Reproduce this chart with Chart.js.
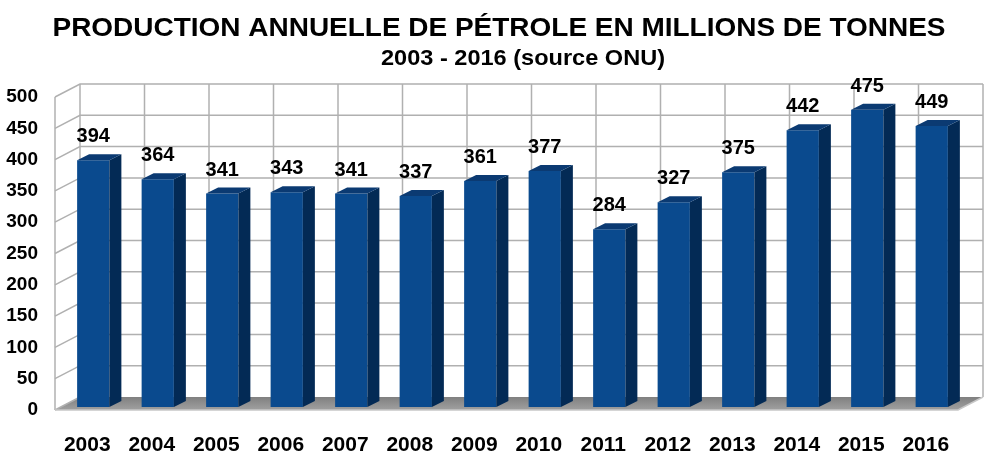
<!DOCTYPE html>
<html>
<head>
<meta charset="utf-8">
<script src="https://cdn.jsdelivr.net/npm/chart.js@4/dist/chart.umd.min.js"></script>
<style>
  html, body { margin: 0; padding: 0; background: #fff; }
  #wrap { width: 998px; height: 455px; }
</style>
</head>
<body>
<div id="wrap"><canvas id="chart"></canvas></div>
<script>
// @ts-check

const years = ['2003', '2004', '2005', '2006', '2007', '2008', '2009',
  '2010', '2011', '2012', '2013', '2014', '2015', '2016'];
const production = [394, 364, 341, 343, 341, 337, 361, 377, 284, 327, 375, 442, 475, 449];
const yMax = 500;
const yStep = 50;

const titleText = 'PRODUCTION ANNUELLE DE PÉTROLE EN MILLIONS DE TONNES';
const subtitleText = '2003 - 2016 (source ONU)';

const FONT = '"Liberation Sans", Arial, sans-serif';

// depth of the box and of the bars (pixels)
const WALL = { dx: 25, dy: -13 };
const BAR_SHIFT = { dx: 6, dy: -3 };
const BAR_DEPTH = { dx: 12, dy: -6 };

// text drawn a bit wider, like the original
function wideText(ctx, text, cx, cy, width) {
  const sx = width / ctx.measureText(text).width;
  ctx.save();
  ctx.translate(cx, cy);
  ctx.scale(sx, 1);
  ctx.fillText(text, 0, 0);
  ctx.restore();
}

const box3d = {
  id: 'box3d',
  beforeDatasetsDraw(chart) {
    const { ctx, chartArea: a, scales: { y } } = chart;
    ctx.save();

    // floor
    const grd = ctx.createLinearGradient(0, a.bottom + WALL.dy, 0, a.bottom);
    grd.addColorStop(0, '#808080');
    grd.addColorStop(1, '#a0a0a0');
    ctx.fillStyle = grd;
    ctx.beginPath();
    ctx.moveTo(a.left, a.bottom);
    ctx.lineTo(a.right, a.bottom);
    ctx.lineTo(a.right + WALL.dx, a.bottom + WALL.dy);
    ctx.lineTo(a.left + WALL.dx, a.bottom + WALL.dy);
    ctx.closePath();
    ctx.fill();

    ctx.strokeStyle = '#b0b0b0';
    ctx.lineWidth = 1.5;

    // horizontal grid on back wall + connectors on left wall
    for (let v = 0; v <= yMax; v += yStep) {
      const py = y.getPixelForValue(v);
      ctx.beginPath();
      ctx.moveTo(a.left, py);
      ctx.lineTo(a.left + WALL.dx, py + WALL.dy);
      if (v > 0) ctx.lineTo(a.right + WALL.dx, py + WALL.dy);
      ctx.stroke();
    }

    // vertical lines on back wall at category boundaries
    const n = years.length;
    const w = (a.right - a.left) / n;
    for (let i = 0; i <= n; i++) {
      const px = a.left + WALL.dx + i * w;
      ctx.beginPath();
      ctx.moveTo(px, a.top + WALL.dy);
      ctx.lineTo(px, a.bottom + WALL.dy);
      ctx.stroke();
    }

    // left front edge
    ctx.beginPath();
    ctx.moveTo(a.left, a.top);
    ctx.lineTo(a.left, a.bottom);
    ctx.stroke();

    // floor front edge
    ctx.strokeStyle = '#c8c8c8';
    ctx.beginPath();
    ctx.moveTo(a.left, a.bottom);
    ctx.lineTo(a.right, a.bottom);
    ctx.lineTo(a.right + WALL.dx, a.bottom + WALL.dy);
    ctx.stroke();
    ctx.restore();

    // bars sit a little inside the box
    ctx.save();
    ctx.translate(BAR_SHIFT.dx, BAR_SHIFT.dy);
  },
  afterDatasetsDraw(chart) {
    const { ctx } = chart;
    chart.getDatasetMeta(0).data.forEach((bar, i) => {
      // @ts-ignore
      const { x, y, base, width } = bar.getProps(['x', 'y', 'base', 'width'], true);
      const l = x - width / 2, r = x + width / 2;
      // side
      ctx.fillStyle = '#032a55';
      ctx.beginPath();
      ctx.moveTo(r, y);
      ctx.lineTo(r + BAR_DEPTH.dx, y + BAR_DEPTH.dy);
      ctx.lineTo(r + BAR_DEPTH.dx, base + BAR_DEPTH.dy);
      ctx.lineTo(r, base);
      ctx.closePath();
      ctx.fill();
      // top
      ctx.fillStyle = '#0b3a72';
      ctx.beginPath();
      ctx.moveTo(l, y);
      ctx.lineTo(l + BAR_DEPTH.dx, y + BAR_DEPTH.dy);
      ctx.lineTo(r + BAR_DEPTH.dx, y + BAR_DEPTH.dy);
      ctx.lineTo(r, y);
      ctx.closePath();
      ctx.fill();
      // value label
      ctx.fillStyle = '#000';
      ctx.font = 'bold 20px ' + FONT;
      ctx.textAlign = 'center';
      ctx.textBaseline = 'alphabetic';
      ctx.fillText(String(production[i]), x, y - 18);
    });
    ctx.restore();
  },
  afterDraw(chart) {
    const { ctx } = chart;
    ctx.save();
    ctx.fillStyle = '#000';
    ctx.textAlign = 'center';
    ctx.textBaseline = 'alphabetic';
    ctx.font = 'bold 25px ' + FONT;
    wideText(ctx, titleText, 499, 36, 893);
    ctx.font = 'bold 22px ' + FONT;
    wideText(ctx, subtitleText, 523, 65, 284);
    ctx.restore();
  }
};

const frontGrad = (context) => {
  const { chart } = context;
  const el = context.element;
  if (!el || !Number.isFinite(el.x) || !Number.isFinite(el.width)) return '#0a4a8e';
  const g = chart.ctx.createLinearGradient(el.x - el.width / 2, 0, el.x + el.width / 2, 0);
  g.addColorStop(0, '#0c4f96');
  g.addColorStop(1, '#08448a');
  return g;
};

// @ts-ignore
new Chart(document.getElementById('chart'), {
  type: 'bar',
  data: {
    labels: years,
    datasets: [{
      data: production,
      backgroundColor: frontGrad,
      borderWidth: 0,
      barPercentage: 0.5,
      categoryPercentage: 1
    }]
  },
  options: {
    responsive: true,
    maintainAspectRatio: false,
    animation: false,
    layout: { padding: { top: 97, right: 40, left: 0, bottom: 0 } },
    plugins: {
      legend: { display: false },
      tooltip: { enabled: false }
    },
    scales: {
      x: {
        grid: { display: false },
        border: { display: false },
        ticks: { color: '#000', font: { family: FONT, size: 21, weight: 'bold' }, padding: 15, maxRotation: 0 },
        afterFit: (s) => { s.height = 45; }
      },
      y: {
        min: 0,
        max: yMax,
        grid: { display: false, drawTicks: false },
        border: { display: false },
        ticks: { stepSize: yStep, color: '#000', font: { family: FONT, size: 19, weight: 'bold' }, padding: 17 },
        afterFit: (s) => { s.width = 55; }
      }
    }
  },
  plugins: [box3d]
});
</script>
</body>
</html>
